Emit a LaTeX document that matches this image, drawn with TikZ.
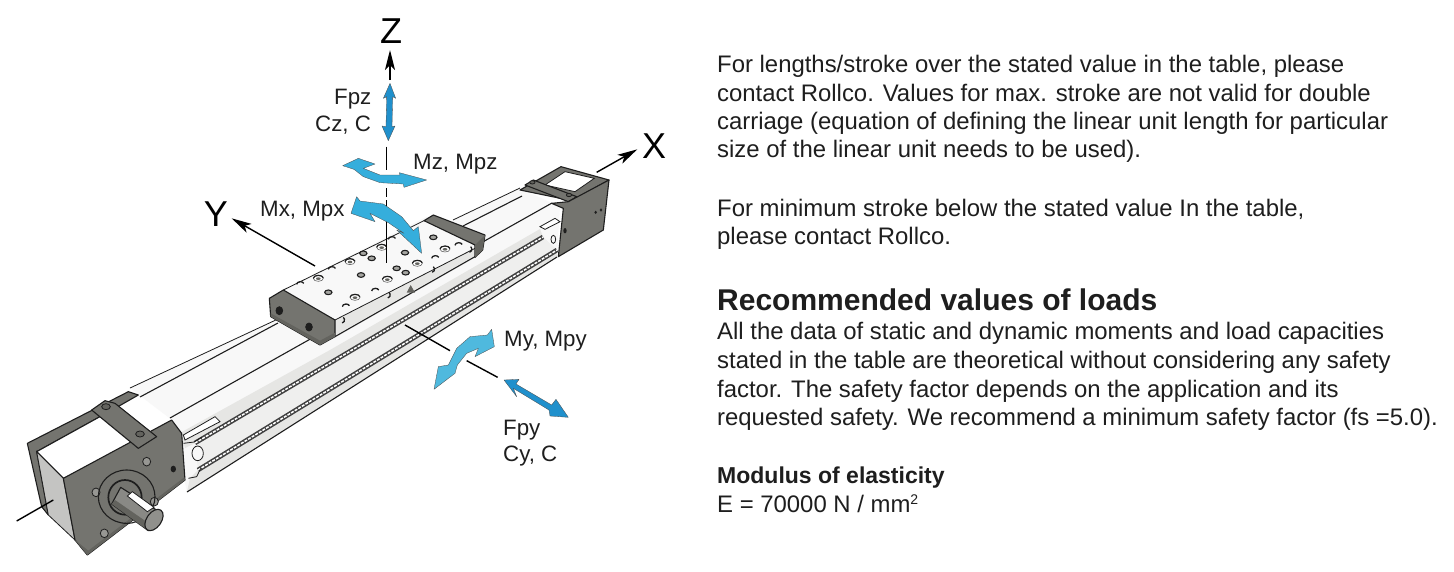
\documentclass[tikz,border=0pt]{standalone}
\usepackage{fontspec}
\setmainfont{Liberation Sans}
\usetikzlibrary{arrows.meta}
\definecolor{plate}{HTML}{74746F}
\definecolor{plated}{HTML}{63635E}
\definecolor{ink}{HTML}{1E1E1E}
\definecolor{bodyw}{HTML}{F8F8F8}
\definecolor{bodyg}{HTML}{E6E6E4}
\definecolor{bodym}{HTML}{EFEFEE}
\definecolor{blueA}{HTML}{35AEDC}
\definecolor{blueB}{HTML}{4FB9DE}
\definecolor{blueC}{HTML}{2090CC}
\tikzset{
 z1/.style={x=.33333pt,y=-.33333pt,yshift=-280pt},
 z2/.style={x=.33333pt,y=-.33333pt,xshift=200pt},
 z3/.style={x=.33333pt,y=-.33333pt,xshift=400pt,yshift=-120pt},
 z4/.style={x=.33333pt,y=-.33333pt,xshift=500pt,yshift=-150pt},
 z5/.style={x=.33333pt,y=-.33333pt,xshift=170pt,yshift=-380pt},
 txt/.style={anchor=base west,inner sep=0pt,text=ink,font=\fontsize{23.9}{28}\selectfont},
 head/.style={anchor=base west,inner sep=0pt,text=ink,font=\fontsize{30}{34}\selectfont\bfseries},
 lab/.style={anchor=base west,inner sep=0pt,text=ink,font=\fontsize{22.3}{26}\selectfont},
 axl/.style={anchor=center,inner sep=0pt,text=black,font=\fontsize{36}{40}\selectfont},
 axis/.style={draw=black,line width=1.4pt},
 axarrow/.style={axis,-{Stealth[length=20pt,width=10pt,inset=5pt]}},
 ol/.style={draw=ink,line width=1.1pt,line join=round},
 thinl/.style={draw=ink,line width=.8pt},
 ring/.style={draw=ink!70,line width=.6pt,fill=white},
 bolt/.style={fill=plated,draw=ink,line width=.8pt},
 blueout/.style={draw=ink!80,line width=.3pt,line join=round},
 rail/.style={line width=4.6pt,draw=ink!85,line cap=butt},
 railw/.style={line width=1.5pt,draw=white,dash pattern=on 3pt off 1.2pt},
}
\begin{document}
\begin{tikzpicture}[x=1pt,y=-1pt]
\useasboundingbox (0,0) rectangle (1454,571);
\fill[white] (0,0) rectangle (1454,571);

% --- long profile
\coordinate (rOneA) at (195,443); \coordinate (rOneB) at (543,237);
\coordinate (rTwoA) at (198,470); \coordinate (rTwoB) at (557,250);
\fill[bodyw] (130,388) -- (278,320) -- (453,220) -- (520,188) -- (560,207) -- (557,257) -- (187,492) -- (172,420) -- cycle;
\fill[bodym] (rOneA) -- (rOneB) -- (rTwoB) -- (rTwoA) -- cycle;
\fill[bodyg] (190,478) -- (rTwoA) -- (rTwoB) -- (557,257) -- (187,492) -- cycle;
\fill[bodyg] (180,433) -- (330,350) -- (540,229) -- (rOneB) -- (rOneA) -- (185,448) -- cycle;
\fill[bodyw] (172,420) -- (552,203) -- (545,222) -- (182,430) -- cycle;
\draw[thinl] (130,388) -- (278,319);
\draw[thinl] (453,220) -- (520,188);
\draw[ol] (140,397) -- (278,323);
\draw[ol] (463,226) -- (522,196);
\draw[ol] (170,418) -- (552,203);
\draw[ol] (187,492) -- (557,257);
\draw[rail] (rOneA) -- (rOneB); \draw[railw] (rOneA) -- (rOneB);
\draw[rail] (rTwoA) -- (rTwoB); \draw[railw] (rTwoA) -- (rTwoB);

% --- slot details, near end
\begin{scope}[z5]
 \fill[white,thinl] (40,165) -- (135,110) -- (150,125) -- (45,180) -- cycle;
 \draw[thinl,fill=bodyw] (83,220) ellipse (17 and 22);
 \draw[thinl] (40,190) -- (72,186) -- (95,172);
 \draw[thinl] (55,295) -- (80,290) -- (92,265);
\end{scope}

% --- near end block
\begin{scope}[z1]
 \fill[plate,ol] (82,490) -- (385,335) -- (415,345) -- (345,385) -- (110,515) -- (145,705) -- (125,680) -- cycle;
 \fill[white,ol] (110,515) -- (345,385) -- (470,470) -- (190,595) -- cycle;
 \fill[bodyg!85!black,thinl] (110,515) -- (190,595) -- (225,780) -- (145,705) -- cycle;
 \fill[plate,ol] (190,595) -- (515,420) -- (545,460) -- (555,600) -- (262,825) -- (225,780) -- cycle;
 \fill[plated] (225,780) -- (262,825) -- (555,600) -- (553,592) -- (265,812) -- cycle;
 % clamp
 \fill[plate,ol] (275,390) -- (315,362) -- (345,370) -- (470,470) -- (415,505) -- cycle;
 \draw[bolt] (318,380) ellipse (13 and 9);
 \draw[bolt] (420,462) ellipse (13 and 9);
 % holes of the plate
 \foreach \a/\b in {288/637,440/545,313/760,463/665}
   \draw[bolt,fill=plate!75!white] (\a,\b) ellipse (12 and 13);
 \fill[ink] (520,567) ellipse (8 and 10);
 % boss and shaft
 \draw[ink,line width=1.1pt] (380,650) ellipse (85 and 80);
 \draw[ink,line width=1.7pt] (375,652) ellipse (50 and 52);
 \fill[plate!85!white,ol] (362,622) -- (482,698) -- (445,752) -- (335,672) -- cycle;
 \fill[plated] (335,672) -- (445,752) -- (458,738) -- (345,660) -- cycle;
 \fill[white,thinl] (382,648) -- (397,635) -- (462,682) -- (442,695) -- cycle;
 \draw[ol,fill=plate!80!white,rotate around={-35:(462,720)}] (462,720) ellipse (22 and 36);
\end{scope}

% --- far end block
\begin{scope}[z4]
 \fill[plate,ol] (60,120) -- (183,50) -- (327,90) -- (215,152) -- cycle;
 \fill[white,thinl] (135,105) -- (195,65) -- (283,85) -- (225,125) -- cycle;
 \fill[plate,ol] (75,105) -- (100,90) -- (230,140) -- (205,155) -- cycle;
 \draw[bolt] (97,97) ellipse (8 and 5) (207,135) ellipse (8 and 5);
 \fill[white,thinl] (120,230) -- (165,205) -- (180,215) -- (135,238) -- cycle;
 \draw[thinl,fill=bodyw] (160,268) ellipse (7 and 12);
 \fill[plate,ol] (155,160) -- (205,155) -- (327,90) -- (310,240) -- (175,320) -- (190,175) -- cycle;
 \fill[ink] (195,242) ellipse (5 and 8) (287,187) ellipse (4 and 5) (303,180) ellipse (4 and 5);
\end{scope}

% --- carriage
\begin{scope}[z2]
 \fill[bodyw] (250,870) -- (680,650) -- (855,705) -- (825,770) -- (405,1010) -- (405,960) -- cycle;
 \fill[bodyg] (405,960) -- (825,745) -- (825,770) -- (405,1010) -- cycle;
 \draw[thinl] (405,960) -- (825,745);
 \draw[thinl] (250,870) -- (672,662);
 \draw[ol] (405,1010) -- (825,770);
 % far cap
 \fill[plate,ol] (672,662) -- (700,645) -- (855,705) -- (848,750) -- (825,772) -- (825,735) -- cycle;
 \fill[plated] (825,735) -- (855,705) -- (848,750) -- (825,772) -- cycle;
 % near cap
 \fill[plate,ol] (208,895) -- (250,870) -- (405,960) -- (405,1010) -- (360,1035) -- (212,950) -- cycle;
 \fill[plated] (212,950) -- (360,1035) -- (405,1010) -- (405,998) -- (360,1022) -- (212,940) -- cycle;
 \draw[bolt,fill=ink] (238,932) ellipse (10 and 12) (327,981) ellipse (10 and 12);
 % holes with ring
 \foreach \a/\b in {355/835,450/785,545/742,562/838,652/790,735/747,465/892}{
   \draw[ring] (\a,\b) ellipse (15 and 9);
   \fill[plated] (\a,\b+1) ellipse (7 and 4);
   \draw[ink,line width=1.2pt] (\a-15,\b) arc[x radius=15,y radius=9,start angle=180,end angle=350];
 }
 % plain holes
 \foreach \a/\b in {490/760,515/775,385/877,483/825,590/805,617/818,615/758,700/712}
   \draw[draw=ink,line width=1.1pt,fill=plate!65!white] (\a,\b) ellipse (11 and 7);
 % small arcs
 \foreach \a/\b in {300/850,395/805,575/715,525/870,437/917,775/733,705/772}
   \draw[ink,line width=1.3pt] (\a-10,\b+3) arc[x radius=11,y radius=8,start angle=180,end angle=340];
 \foreach \a/\b in {700/808,567/885,430/960,812/748}
   \draw[ink,line width=1.3pt] (\a,\b-8) arc[x radius=7,y radius=9,start angle=-60,end angle=90];
 \fill[plated] (620,878) -- (632,855) -- (645,878) -- cycle;
\end{scope}

% --- axes
\begin{scope}[z2]
 \coordinate (zBase) at (570,240); \coordinate (zTip) at (570,150);
 \coordinate (yBase) at (345,798); \coordinate (yTip) at (95,655);
 \coordinate (zd1) at (560,440); \coordinate (zd2) at (560,510);
 \coordinate (zd3) at (560,565); \coordinate (zd4) at (560,590);
 \coordinate (zd5) at (560,600); \coordinate (zd6) at (560,790);
\end{scope}
\begin{scope}[z3]
 \coordinate (xBase) at (590,157); \coordinate (xTip) at (712,88);
 \coordinate (yd1) at (15,615); \coordinate (yd2) at (150,692);
 \coordinate (yd3) at (200,722); \coordinate (yd4) at (293,772);
\end{scope}
\begin{scope}[z1]
 \coordinate (xd1) at (50,723); \coordinate (xd2) at (160,660);
\end{scope}
\draw[axarrow] (zBase) -- (zTip);
\draw[axarrow] (yBase) -- (yTip);
\draw[axarrow] (xBase) -- (xTip);
\draw[axis] (zd1) -- (zd2); \draw[axis] (zd3) -- (zd4); \draw[axis] (zd5) -- (zd6);
\draw[axis] (yd1) -- (yd2); \draw[axis] (yd3) -- (yd4);
\draw[axis] (xd1) -- (xd2);

% --- blue arrows
\begin{scope}[z2]
 \fill[blueC,blueout] (570,250) -- (587,295) -- (578,290) -- (576,380) -- (585,378) -- (565,422) -- (546,378) -- (558,380) -- (560,290) -- (550,295) -- cycle;
 \fill[blueA,blueout] (428,497) -- (475,475) -- (525,492) -- (490,505) -- (540,525) -- (600,525) -- (598,518) -- (680,540) -- (612,562) -- (610,552) -- (540,548) -- (490,530) -- (462,508) -- cycle;
 \fill[blueA,blueout] (470,590) -- (480,603) -- (550,612) -- (605,650) -- (640,692) -- (655,680) -- (665,760) -- (590,690) -- (612,700) -- (565,668) -- (510,640) -- (525,665) -- (453,640) -- cycle;
\end{scope}
\begin{scope}[z3]
 \fill[blueB,blueout] (275,628) -- (283,680) -- (225,710) -- (235,685) -- (200,700) -- (172,735) -- (165,760) -- (102,808) -- (115,740) -- (145,735) -- (170,685) -- (210,650) -- (262,645) -- cycle;
 \fill[blueC,blueout] (312,780) -- (357,778) -- (348,792) -- (455,855) -- (468,838) -- (505,892) -- (450,888) -- (447,870) -- (340,805) -- (350,830) -- cycle;
\end{scope}

% --- axis letters and load labels
\node[axl] (zLab) at (391,31) {Z};
\node[axl] (xLab) at (654,146) {X};
\node[axl] (yLab) at (216,214) {Y};
\node[lab] (fpz) at (334,104) {Fpz};
\node[lab] (cz) at (315,131) {Cz, C};
\node[lab] (mz) at (413,169) {Mz, Mpz};
\node[lab] (mx) at (260,216) {Mx, Mpx};
\node[lab] (my) at (504,346) {My, Mpy};
\node[lab] (fpy) at (503,435) {Fpy};
\node[lab] (cy) at (503,461) {Cy, C};

% --- right-hand text
\node[txt] (t1) at (717,72) {For lengths/stroke over the stated value in the table, please};
\node[txt] (t2) at (717,101) {contact Rollco. Values for max. stroke are not valid for double};
\node[txt] (t3) at (717,129) {carriage (equation of defining the linear unit length for particular};
\node[txt] (t4) at (717,157) {size of the linear unit needs to be used).};
\node[txt] (t5) at (717,216) {For minimum stroke below the stated value In the table,};
\node[txt] (t6) at (717,244) {please contact Rollco.};
\node[head] (h1) at (717,310) {Recommended values of loads};
\node[txt] (t7) at (717,339) {All the data of static and dynamic moments and load capacities};
\node[txt] (t8) at (717,368) {stated in the table are theoretical without considering any safety};
\node[txt] (t9) at (717,397) {factor. The safety factor depends on the application and its};
\node[txt] (t10) at (717,425) {requested safety. We recommend a minimum safety factor (fs =5.0).};
\node[txt,font=\fontsize{23}{28}\selectfont\bfseries] (h2) at (717,483) {Modulus of elasticity};
\node[txt] (t11) at (717,512) {E = 70000 N / mm\raisebox{8pt}{\fontsize{14}{16}\selectfont 2}};
\end{tikzpicture}
\end{document}
